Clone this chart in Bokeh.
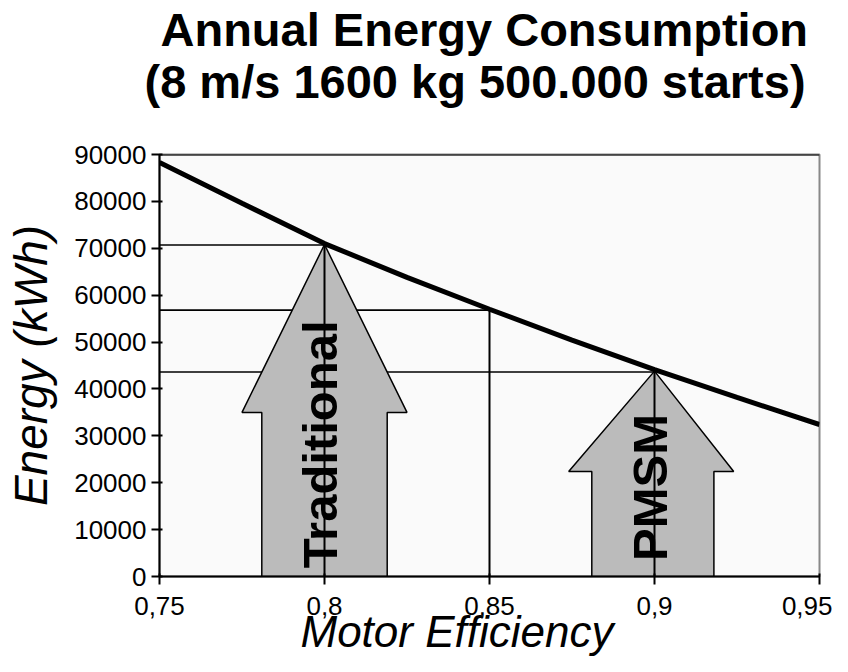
import math
from bokeh.plotting import figure
from bokeh.models import FixedTicker, BasicTickFormatter, Span, ColumnDataSource, Range1d, Title
from bokeh.core.properties import value
from bokeh.embed import file_html
from bokeh.resources import INLINE

# ---- data ----
efficiency = [0.75, 0.775, 0.80, 0.825, 0.85, 0.875, 0.90, 0.925, 0.95]
energy_kwh = [88300, 79600, 71000, 63800, 57000, 50400, 44100, 38200, 32400]

ref_eff = [0.80, 0.85, 0.90]
ref_energy = [70700, 56800, 43600]

x_ticks = [0.75, 0.80, 0.85, 0.90, 0.95]
x_tick_labels = ["0,75", "0,8", "0,85", "0,9", "0,95"]
y_ticks = [0, 10000, 20000, 30000, 40000, 50000, 60000, 70000, 80000, 90000]

arrow_names = ["Traditional", "PMSM"]
arrow_center = [0.80, 0.90]
arrow_shaft_left = [0.781, 0.881]
arrow_shaft_right = [0.819, 0.918]
arrow_head_left = [0.775, 0.874]
arrow_head_right = [0.825, 0.924]
arrow_head_base = [35000, 22400]
arrow_tip = [70800, 43800]
arrow_label_y = [28200, 19000]

title_line1 = "Annual Energy Consumption"
title_line2 = "(8 m/s 1600 kg 500.000 starts)"
x_label = "Motor Efficiency"
y_label = "Energy (kWh)"

FONT = "Liberation Sans"

p = figure(width=832, height=656, output_backend="svg", toolbar_location=None,
           x_range=Range1d(0.75, 0.95), y_range=Range1d(0, 90000),
           min_border_left=159, min_border_right=13, min_border_top=154,
           min_border_bottom=80)
p.background_fill_color = "#fafafa"
p.border_fill_color = "white"
p.outline_line_color = "#888888"
p.outline_line_width = 2
p.xgrid.visible = False
p.ygrid.visible = False

# axes
for ax in (p.xaxis[0], p.yaxis[0]):
    ax.axis_line_color = "black"
    ax.axis_line_width = 2
    ax.major_tick_line_color = "black"
    ax.major_tick_line_width = 2
    ax.major_tick_out = 8
    ax.major_tick_in = 3
    ax.minor_tick_line_color = None
    ax.major_label_text_font = FONT
    ax.major_label_text_font_size = "26px"
    ax.major_label_text_color = "black"

p.xaxis[0].ticker = FixedTicker(ticks=x_ticks)
p.xaxis[0].major_label_overrides = {t: l for t, l in zip(x_ticks, x_tick_labels)}
p.xaxis[0].major_label_standoff = 12
p.yaxis[0].ticker = FixedTicker(ticks=y_ticks)
p.yaxis[0].formatter = BasicTickFormatter(use_scientific=False)
p.yaxis[0].major_label_standoff = 5
p.yaxis[0].axis_label = y_label
p.yaxis[0].axis_label_text_font = FONT
p.yaxis[0].axis_label_text_font_style = "italic"
p.yaxis[0].axis_label_text_font_size = "46px"
p.yaxis[0].axis_label_text_color = "black"
p.yaxis[0].axis_label_standoff = 14

# x label as a title below, shifted to match the reference
p.add_layout(Title(text=x_label, align="left", offset=141, standoff=-26,
                   text_font=FONT, text_font_style="italic", text_font_size="44px",
                   text_color="black"), "below")

# titles
p.add_layout(Title(text=title_line2, align="left", offset=-15, standoff=94,
                   text_font=FONT, text_font_style="bold", text_font_size="47px",
                   text_color="black"), "above")
p.add_layout(Title(text=title_line1, align="left", offset=1, standoff=-100,
                   text_font=FONT, text_font_style="bold", text_font_size="47px",
                   text_color="black"), "above")

# top border
p.add_layout(Span(location=90000, dimension="width", line_color="black", line_width=2))

# reference lines
p.segment(x0=[0.75] * len(ref_eff), y0=ref_energy, x1=ref_eff, y1=ref_energy,
          line_color="black", line_width=1.6)

# arrows
xs, ys = [], []
for c, sl, sr, hl, hr, hb, tp in zip(arrow_center, arrow_shaft_left, arrow_shaft_right,
                                     arrow_head_left, arrow_head_right, arrow_head_base, arrow_tip):
    xs.append([sl, sl, hl, c, hr, sr, sr])
    ys.append([0, hb, hb, tp, hb, hb, 0])
p.patches(xs=xs, ys=ys, fill_color="#bbbbbb", line_color="black", line_width=1.5)

# vertical lines
p.segment(x0=ref_eff, y0=[0] * len(ref_eff), x1=ref_eff, y1=ref_energy,
          line_color="black", line_width=2)

# arrow labels
src = ColumnDataSource(dict(x=arrow_center, y=arrow_label_y, t=arrow_names))
p.text(x="x", y="y", text="t", source=src, angle=math.pi / 2, x_offset=-5,
       text_align="center", text_baseline="middle", text_font=value(FONT),
       text_font_style="bold", text_font_size="49px", text_color="black")

# curve
p.line(efficiency, energy_kwh, line_color="black", line_width=5)

open("out.html", "w").write(file_html(p, INLINE))
